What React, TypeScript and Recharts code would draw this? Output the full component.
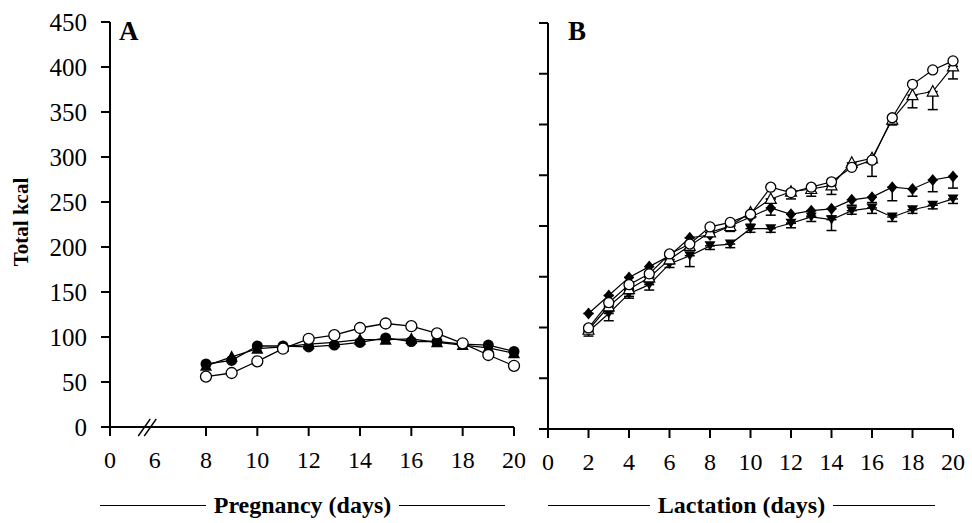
import React from "react";
import { LineChart, Line, XAxis, YAxis, ErrorBar, ReferenceDot } from "recharts";

// Pregnancy panel (A)
const PREG_DAYS = [8, 9, 10, 11, 12, 13, 14, 15, 16, 17, 18, 19, 20];
const PREG_FILLED_CIRCLE = [70, 74, 90, 90, 89, 91, 94, 99, 95, 95, 92, 91, 84];
const PREG_FILLED_TRIANGLE = [68, 78, 87, 89, 92, 94, 97, 97, 98, 94, 91, 88, 82];
const PREG_OPEN_CIRCLE = [56, 60, 73, 87, 98, 102, 110, 115, 112, 104, 93, 80, 68];

// x axis is broken: "0" sits just left of the break, then 6, 8 ... 20
const PREG_X_TICKS = [4.26, 6, 8, 10, 12, 14, 16, 18, 20];
const PREG_X_LABELS = ["0", "6", "8", "10", "12", "14", "16", "18", "20"];
const PREG_Y_TICKS = [0, 50, 100, 150, 200, 250, 300, 350, 400, 450];

// Lactation panel (B)
const LACT_DAYS = [2, 3, 4, 5, 6, 7, 8, 9, 10, 11, 12, 13, 14, 15, 16, 17, 18, 19, 20];
const LACT_FILLED_DIAMOND = [128, 148, 168, 180, 192, 212, 215, 225, 235, 245, 238, 242, 244, 254, 257, 268, 266, 276, 280];
const LACT_FILLED_TRIANGLE = [108, 128, 150, 160, 183, 192, 203, 205, 222, 222, 228, 235, 232, 242, 245, 235, 243, 248, 255];
const LACT_OPEN_CIRCLE = [112, 140, 160, 172, 194, 205, 224, 229, 238, 268, 262, 268, 274, 290, 298, 345, 382, 398, 408];
const LACT_OPEN_TRIANGLE = [110, 136, 155, 168, 188, 203, 218, 225, 240, 255, 263, 266, 270, 295, 300, 343, 370, 374, 402];

// downward SEM bars
const LACT_ERR_DIAMOND = [0, 0, 5, 6, 0, 0, 0, 0, 8, 8, 10, 6, 8, 6, 6, 15, 8, 13, 13];
const LACT_ERR_FILLED_TRIANGLE = [5, 8, 5, 6, 4, 12, 4, 4, 4, 4, 5, 5, 12, 4, 6, 5, 4, 4, 5];
const LACT_ERR_OPEN_CIRCLE = [4, 6, 4, 4, 0, 0, 0, 0, 0, 0, 0, 0, 0, 0, 0, 0, 0, 0, 0];
const LACT_ERR_OPEN_TRIANGLE = [0, 6, 8, 6, 4, 4, 4, 6, 6, 0, 8, 8, 10, 6, 20, 6, 14, 20, 14];

const LACT_X_TICKS = [0, 2, 4, 6, 8, 10, 12, 14, 16, 18, 20];
const LACT_Y_TICKS = [0, 56.25, 112.5, 168.75, 225, 281.25, 337.5, 393.75, 450];

const SERIF = "'Liberation Serif', 'Times New Roman', serif";
const TICK_SIZE = 9;
const X_TICK_MARGIN = 15;
const Y_TICK_MARGIN = 14;

const pregData = PREG_DAYS.map((day, i) => ({
  day,
  fc: PREG_FILLED_CIRCLE[i],
  ft: PREG_FILLED_TRIANGLE[i],
  oc: PREG_OPEN_CIRCLE[i],
}));

const lactData = LACT_DAYS.map((day, i) => ({
  day,
  fd: LACT_FILLED_DIAMOND[i],
  ft: LACT_FILLED_TRIANGLE[i],
  oc: LACT_OPEN_CIRCLE[i],
  ot: LACT_OPEN_TRIANGLE[i],
  eFd: [LACT_ERR_DIAMOND[i], 0],
  eFt: [LACT_ERR_FILLED_TRIANGLE[i], 0],
  eOc: [LACT_ERR_OPEN_CIRCLE[i], 0],
  eOt: [LACT_ERR_OPEN_TRIANGLE[i], 0],
}));

type DotProps = { cx?: number; cy?: number; index?: number };

const circleDot = (r: number, open: boolean) => (p: DotProps) => (
  <circle
    key={`c-${open}-${p.index}`}
    cx={p.cx}
    cy={p.cy}
    r={r}
    fill={open ? "#fff" : "#000"}
    stroke="#000"
    strokeWidth={open ? 1.3 : 0}
  />
);

const triangleUpDot = (s: number, open: boolean) => (p: DotProps) => {
  const x = p.cx ?? 0;
  const y = p.cy ?? 0;
  return (
    <path
      key={`tu-${open}-${p.index}`}
      d={`M${x},${y - s * 0.6} L${x + s * 0.55},${y + s * 0.45} L${x - s * 0.55},${y + s * 0.45} Z`}
      fill={open ? "#fff" : "#000"}
      stroke="#000"
      strokeWidth={open ? 1.2 : 0}
    />
  );
};

const triangleDownDot = (p: DotProps) => {
  const x = p.cx ?? 0;
  const y = p.cy ?? 0;
  return (
    <path
      key={`td-${p.index}`}
      d={`M${x - 5.5},${y - 4.5} L${x + 5.5},${y - 4.5} L${x},${y + 5} Z`}
      fill="#000"
    />
  );
};

const diamondDot = (p: DotProps) => {
  const x = p.cx ?? 0;
  const y = p.cy ?? 0;
  return (
    <path
      key={`d-${p.index}`}
      d={`M${x},${y - 6} L${x + 5},${y} L${x},${y + 6} L${x - 5},${y} Z`}
      fill="#000"
    />
  );
};

// x ticks of panel A: no mark under "6", next to the axis break
const PregTick = (props: any) => {
  const { x, y, payload } = props;
  const idx = PREG_X_TICKS.indexOf(payload.value);
  const top = y - X_TICK_MARGIN - TICK_SIZE;
  return (
    <g>
      {payload.value !== 6 && (
        <line x1={x} x2={x} y1={top} y2={top + TICK_SIZE} stroke="#000" strokeWidth={2} />
      )}
      <text x={x} y={y} dy="0.71em" textAnchor="middle" fontFamily={SERIF} fontSize={24} fill="#000">
        {PREG_X_LABELS[idx]}
      </text>
    </g>
  );
};

const MarkOnlyTick = (props: any) => {
  const { x, y } = props;
  const right = x + Y_TICK_MARGIN + TICK_SIZE;
  return <line x1={right - TICK_SIZE} x2={right} y1={y} y2={y} stroke="#000" strokeWidth={2} />;
};

const AxisBreak = (props: any) => {
  const { cx, cy } = props;
  return (
    <g>
      <line x1={cx - 10} y1={cy + 9} x2={cx + 2} y2={cy - 8} stroke="#000" strokeWidth={1.4} />
      <line x1={cx - 4} y1={cy + 9} x2={cx + 8} y2={cy - 8} stroke="#000" strokeWidth={1.4} />
    </g>
  );
};

const AxisTitle = ({ left, width, text }: { left: number; width: number; text: string }) => (
  <div
    style={{
      position: "absolute",
      left,
      top: 492,
      width,
      display: "flex",
      alignItems: "center",
      fontFamily: SERIF,
      fontWeight: "bold",
      fontSize: 24,
      lineHeight: "26px",
      color: "#000",
    }}
  >
    <div style={{ flex: 1, borderTop: "1.5px solid #000" }} />
    <span style={{ padding: "0 8px", whiteSpace: "nowrap" }}>{text}</span>
    <div style={{ flex: 1, borderTop: "1.5px solid #000" }} />
  </div>
);

const axisLine = { stroke: "#000", strokeWidth: 2 };

export default function App() {
  return (
    <div style={{ position: "absolute", left: 0, top: 0, width: 972, height: 523, background: "#fff", overflow: "hidden" }}>
      <LineChart
        width={530}
        height={523}
        data={pregData}
        margin={{ top: 22, right: 16, bottom: 56, left: 0 }}
        style={{ position: "absolute", left: 0, top: 0 }}
      >
        <XAxis
          type="number"
          dataKey="day"
          domain={[4.26, 20]}
          ticks={PREG_X_TICKS}
          interval={0}
          height={40}
          axisLine={axisLine}
          tickLine={false}
          tickSize={TICK_SIZE}
          tickMargin={X_TICK_MARGIN}
          tick={<PregTick />}
        />
        <YAxis
          type="number"
          domain={[0, 450]}
          ticks={PREG_Y_TICKS}
          interval={0}
          width={110}
          axisLine={axisLine}
          tickLine={{ stroke: "#000", strokeWidth: 2 }}
          tickSize={TICK_SIZE}
          tickMargin={Y_TICK_MARGIN}
          tick={{ fill: "#000", fontSize: 25, fontFamily: SERIF }}
        />
        <ReferenceDot x={5.75} y={0} shape={<AxisBreak />} />
        <Line dataKey="ft" stroke="#000" strokeWidth={1.3} dot={triangleUpDot(11, false)} activeDot={false} isAnimationActive={false} />
        <Line dataKey="fc" stroke="#000" strokeWidth={1.3} dot={circleDot(5.5, false)} activeDot={false} isAnimationActive={false} />
        <Line dataKey="oc" stroke="#000" strokeWidth={1.3} dot={circleDot(5.5, true)} activeDot={false} isAnimationActive={false} />
      </LineChart>

      <LineChart
        width={472}
        height={523}
        data={lactData}
        margin={{ top: 23, right: 19, bottom: 54, left: 0 }}
        style={{ position: "absolute", left: 500, top: 0 }}
      >
        <XAxis
          type="number"
          dataKey="day"
          domain={[0, 20]}
          ticks={LACT_X_TICKS}
          interval={0}
          height={40}
          axisLine={axisLine}
          tickLine={{ stroke: "#000", strokeWidth: 2 }}
          tickSize={TICK_SIZE}
          tickMargin={X_TICK_MARGIN}
          tick={{ fill: "#000", fontSize: 24, fontFamily: SERIF }}
        />
        <YAxis
          type="number"
          domain={[0, 450]}
          ticks={LACT_Y_TICKS}
          interval={0}
          width={48}
          axisLine={axisLine}
          tickLine={false}
          tickSize={TICK_SIZE}
          tickMargin={Y_TICK_MARGIN}
          tick={<MarkOnlyTick />}
        />
        <Line dataKey="ft" stroke="#000" strokeWidth={1.2} dot={triangleDownDot} activeDot={false} isAnimationActive={false}>
          <ErrorBar dataKey="eFt" width={5} stroke="#000" strokeWidth={1.5} />
        </Line>
        <Line dataKey="fd" stroke="#000" strokeWidth={1.2} dot={diamondDot} activeDot={false} isAnimationActive={false}>
          <ErrorBar dataKey="eFd" width={5} stroke="#000" strokeWidth={1.5} />
        </Line>
        <Line dataKey="ot" stroke="#000" strokeWidth={1.2} dot={triangleUpDot(10, true)} activeDot={false} isAnimationActive={false}>
          <ErrorBar dataKey="eOt" width={5} stroke="#000" strokeWidth={1.5} />
        </Line>
        <Line dataKey="oc" stroke="#000" strokeWidth={1.2} dot={circleDot(5, true)} activeDot={false} isAnimationActive={false}>
          <ErrorBar dataKey="eOc" width={5} stroke="#000" strokeWidth={1.5} />
        </Line>
      </LineChart>

      <div
        style={{
          position: "absolute",
          left: 21,
          top: 222,
          transform: "translate(-50%, -50%) rotate(-90deg)",
          fontFamily: SERIF,
          fontWeight: "bold",
          fontSize: 21,
          color: "#000",
          whiteSpace: "nowrap",
        }}
      >
        Total kcal
      </div>
      <div style={{ position: "absolute", left: 119, top: 16, fontFamily: SERIF, fontWeight: "bold", fontSize: 27, color: "#000" }}>A</div>
      <div style={{ position: "absolute", left: 568, top: 16, fontFamily: SERIF, fontWeight: "bold", fontSize: 27, color: "#000" }}>B</div>

      <AxisTitle left={100} width={405} text="Pregnancy (days)" />
      <AxisTitle left={548} width={387} text="Lactation (days)" />
    </div>
  );
}
